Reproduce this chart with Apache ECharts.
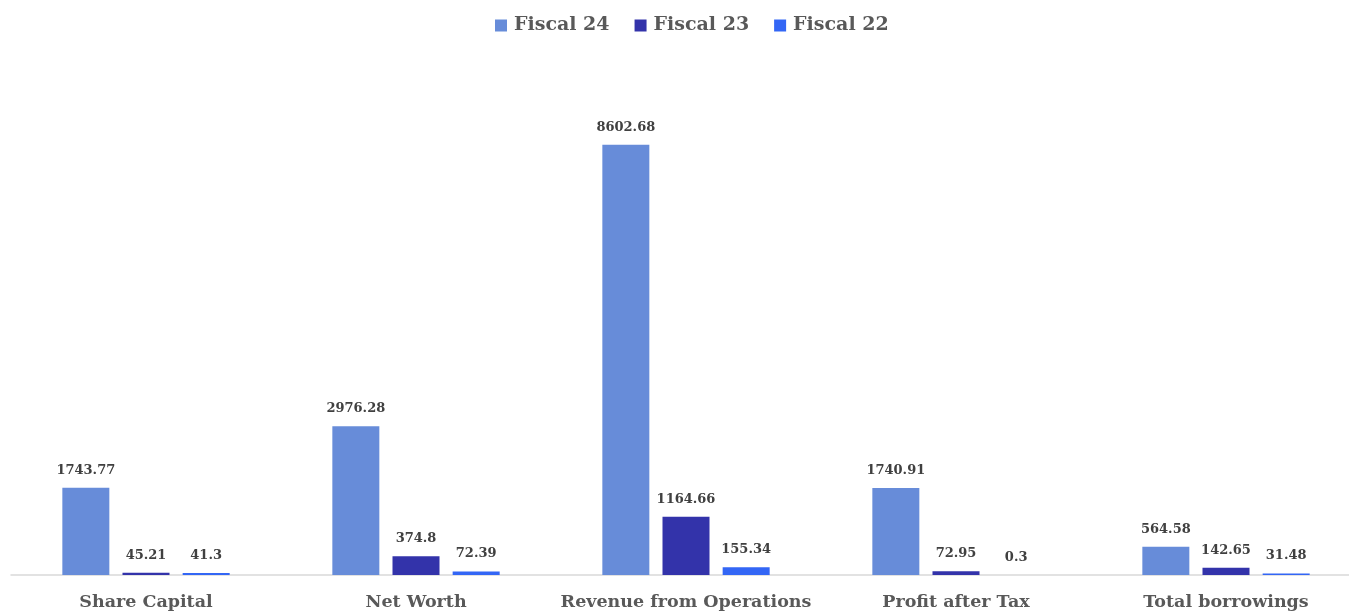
<!DOCTYPE html>
<html>
<head>
<meta charset="utf-8">
<script src="https://cdn.jsdelivr.net/npm/echarts@6/dist/echarts.min.js"></script>
<style>
  html, body { margin: 0; padding: 0; background: #ffffff; }
  #chart { width: 1349px; height: 612px; }
</style>
</head>
<body>
<div id="chart"></div>
<script>
// Key financial figures by fiscal year
const categories = ['Share Capital', 'Net Worth', 'Revenue from Operations', 'Profit after Tax', 'Total borrowings'];
const fiscal24 = [1743.77, 2976.28, 8602.68, 1740.91, 564.58];
const fiscal23 = [45.21, 374.8, 1164.66, 72.95, 142.65];
const fiscal22 = [41.3, 72.39, 155.34, 0.3, 31.48];

const FONT = '"DejaVu Serif", "Liberation Serif", serif';

function barSeries(name, data, color) {
  return {
    name: name,
    type: 'bar',
    data: data,
    barWidth: 47,
    barGap: '28%',
    itemStyle: { color: color },
    label: {
      show: true,
      position: 'top',
      distance: 11,
      fontFamily: FONT,
      fontWeight: 'bold',
      fontSize: 13,
      color: '#404040'
    }
  };
}

const chart = echarts.init(document.getElementById('chart'), null, { renderer: 'canvas' });
chart.setOption({
  animation: false,
  backgroundColor: '#ffffff',
  legend: {
    top: 11,
    left: 490,
    itemWidth: 12,
    itemHeight: 12,
    itemGap: 25,
    icon: 'rect',
    textStyle: {
      fontFamily: FONT, fontWeight: 'bold', fontSize: 19, color: '#595959',
      padding: [0, 0, 0, 2]
    }
  },
  grid: {
    left: 11, width: 1350, top: 75, bottom: 37,
    containLabel: false, outerBoundsMode: 'none'
  },
  xAxis: {
    type: 'category',
    data: categories,
    axisLine: { lineStyle: { color: '#d9d9d9', width: 1.5 } },
    axisTick: { show: false },
    axisLabel: {
      interval: 0,
      hideOverlap: false,
      margin: 18,
      fontFamily: FONT,
      fontWeight: 'bold',
      fontSize: 17.5,
      color: '#595959'
    }
  },
  yAxis: {
    type: 'value',
    min: 0,
    max: 10000,
    show: false,
    splitLine: { show: false }
  },
  series: [
    barSeries('Fiscal 24', fiscal24, '#678cd9'),
    barSeries('Fiscal 23', fiscal23, '#3333aa'),
    barSeries('Fiscal 22', fiscal22, '#3366f5')
  ]
});
</script>
</body>
</html>
